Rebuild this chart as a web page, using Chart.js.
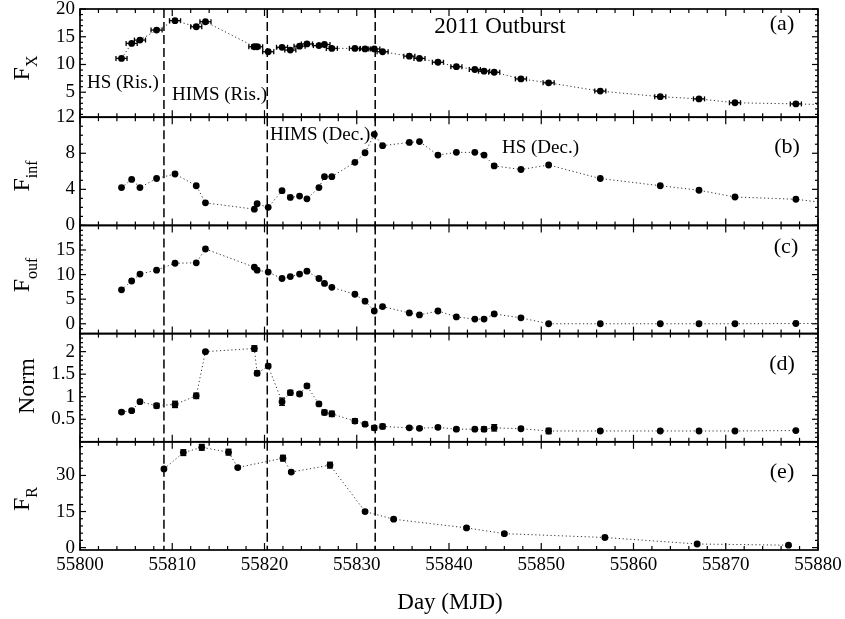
<!DOCTYPE html>
<html>
<head>
<meta charset="utf-8">
<script src="https://cdn.jsdelivr.net/npm/chart.js@4.4.0/dist/chart.umd.min.js"></script>
<style>
  body { margin: 0; background: #fff; }
  #wrap { position: relative; width: 845px; height: 619px; }
  #wrap canvas { position: absolute; left: 0; top: 0; }
</style>
</head>
<body>
<div id="wrap"></div>
<script>
// observation days (MJD) shared by panels a-d, last one only carries the line to the edge
const days = [55804.5, 55805.6, 55806.5, 55808.3, 55810.3, 55812.6, 55813.6, 55818.9, 55819.2, 55820.4,
  55821.9, 55822.8, 55823.8, 55824.6, 55825.9, 55826.5, 55827.3, 55829.8, 55830.9, 55831.9,
  55832.8, 55835.7, 55836.8, 55838.8, 55840.8, 55842.8, 55843.8, 55844.9, 55847.8, 55850.8,
  55856.4, 55862.9, 55867.1, 55871.0, 55877.6, 55882];

const fX = [11.1, 13.8, 14.4, 16.2, 17.9, 16.8, 17.7, 13.2, 13.2, 12.3,
  13.1, 12.6, 13.3, 13.7, 13.4, 13.6, 12.9, 12.9, 12.8, 12.8,
  12.3, 11.5, 11.1, 10.4, 9.6, 9.1, 8.8, 8.6, 7.4, 6.7,
  5.2, 4.2, 3.8, 3.1, 2.9, 2.7];
const fXdayErr = 0.6;

const fInf = [4.2, 5.1, 4.2, 5.2, 5.7, 4.4, 2.5, 1.8, 2.4, 2.0,
  3.85, 3.1, 3.25, 2.95, 4.2, 5.4, 5.4, 7.0, 8.06, 10.1,
  8.84, 9.2, 9.3, 7.8, 8.1, 8.1, 7.8, 6.6, 6.2, 6.7,
  5.2, 4.4, 3.9, 3.15, 2.9, 2.35];

const fOuf = [6.9, 8.7, 10.1, 10.9, 12.3, 12.4, 15.2, 11.5, 10.9, 10.5,
  9.2, 9.6, 10.1, 10.7, 9.2, 8.2, 7.4, 6.0, 4.6, 2.6,
  3.5, 2.2, 1.8, 2.6, 1.4, 0.95, 0.95, 2.0, 1.2, 0.0,
  0.0, 0.0, 0.0, 0.0, 0.05, 0.1];

const norm = [0.66, 0.69, 0.89, 0.80, 0.83, 1.02, 2.0, 2.07, 1.52, 1.68,
  0.89, 1.09, 1.06, 1.24, 0.84, 0.65, 0.62, 0.46, 0.39, 0.31,
  0.34, 0.31, 0.30, 0.32, 0.28, 0.28, 0.28, 0.31, 0.29, 0.24,
  0.24, 0.24, 0.24, 0.24, 0.25, null];
const normErr = [0.03, 0.03, 0.03, 0.05, 0.07, 0.06, 0.02, 0.06, 0.05, 0.04,
  0.08, 0.05, 0.04, 0.04, 0.04, 0.05, 0.06, 0.05, 0.04, 0.05,
  0.05, 0.03, 0.03, 0.03, 0.03, 0.03, 0.05, 0.07, 0.03, 0.06,
  0.02, 0.02, 0.02, 0.02, 0.02, 0];

// radio days and flux
const radioDays = [55809.1, 55811.2, 55813.2, 55816.1, 55817.1, 55822.0, 55822.9, 55827.1,
  55830.9, 55834.0, 55841.9, 55846.0, 55856.9, 55866.9, 55876.8];
const fR = [32.7, 39.5, 41.7, 39.7, 33.3, 37.2, 31.4, 34.3, 15.0, 11.8, 8.2, 5.8, 4.2, 1.5, 1.0];
const fRerr = [0.5, 1.2, 1.2, 1.2, 0.5, 1.2, 0.5, 1.2, 0.5, 0.5, 0.5, 0.5, 0.5, 0.5, 0.5];

// state transitions (dashed lines)
const transitions = [55809.1, 55820.3, 55832.0];

// axis ticks
const dayTicks = [55800, 55810, 55820, 55830, 55840, 55850, 55860, 55870, 55880];
const fXTicks = [5, 10, 15, 20];
const fInfTicks = [0, 4, 8, 12];
const fOufTicks = [0, 5, 10, 15];
const normTicks = [0.5, 1, 1.5, 2];
const fRTicks = [0, 15, 30];

const SERIF = '"Liberation Serif", "DejaVu Serif", serif';
Chart.defaults.font.family = SERIF;
Chart.defaults.font.size = 19;
Chart.defaults.color = '#000';

const W = 845, H = 619;
const LEFT = 80, RIGHT = 818, TOP = 9, BOTTOM = 550;
const PH = (BOTTOM - TOP) / 5;

function pts(xs, ys) {
  return xs.map((x, i) => ({ x: x, y: ys[i] }));
}

function hline(ctx, x1, y1, x2, y2) {
  ctx.beginPath(); ctx.moveTo(x1, y1); ctx.lineTo(x2, y2); ctx.stroke();
}

const framePlugin = {
  id: 'frame',
  beforeDatasetsDraw(chart, args, opts) {
    const { ctx, chartArea: a, scales: { x, y } } = chart;
    ctx.save();
    ctx.strokeStyle = '#000';
    ctx.lineWidth = 1.5;
    ctx.setLineDash([9, 4]);
    transitions.forEach(t => {
      const px = x.getPixelForValue(t);
      hline(ctx, px, a.top, px, a.bottom);
    });
    ctx.setLineDash([]);
    // error bars
    const ds = chart.data.datasets[0];
    ctx.lineWidth = 1.3;
    ds.data.forEach((p, i) => {
      if (p.y == null || p.x > x.max) return;
      const px = x.getPixelForValue(p.x), py = y.getPixelForValue(p.y);
      if (ds.errX) {
        const x1 = x.getPixelForValue(p.x - ds.errX), x2 = x.getPixelForValue(p.x + ds.errX);
        hline(ctx, x1, py, x2, py);
        hline(ctx, x1, py - 2.5, x1, py + 2.5);
        hline(ctx, x2, py - 2.5, x2, py + 2.5);
      }
      if (ds.errY && ds.errY[i]) {
        const y1 = y.getPixelForValue(p.y - ds.errY[i]), y2 = y.getPixelForValue(p.y + ds.errY[i]);
        hline(ctx, px, y1, px, y2);
        hline(ctx, px - 3, y1, px + 3, y1);
        hline(ctx, px - 3, y2, px + 3, y2);
      }
    });
    ctx.restore();
  },
  afterDraw(chart, args, opts) {
    const { ctx, chartArea: a, scales: { x, y } } = chart;
    ctx.save();
    ctx.strokeStyle = '#000';
    ctx.lineWidth = 1.7;
    ctx.strokeRect(a.left, a.top, a.right - a.left, a.bottom - a.top);
    ctx.lineWidth = 1.2;
    // day ticks every 2 days, longer every 10
    for (let d = 55800; d <= 55880; d += 2) {
      const px = x.getPixelForValue(d);
      const len = (d % 10 === 0) ? 7 : 4;
      hline(ctx, px, a.top, px, a.top + len);
      hline(ctx, px, a.bottom, px, a.bottom - len);
    }
    // y ticks
    const step = opts.minor;
    for (let k = Math.ceil(y.min / step - 1e-9); k * step <= y.max + 1e-9; k++) {
      const v = k * step;
      const major = opts.major.some(m => Math.abs(m - v) < 1e-6);
      const len = major ? 6 : 3;
      const py = y.getPixelForValue(v);
      hline(ctx, a.left, py, a.left + len, py);
      hline(ctx, a.right, py, a.right - len, py);
    }
    // axis title (rotated, with subscript)
    const t = opts.title;
    ctx.translate(t.x, t.y);
    ctx.rotate(-Math.PI / 2);
    ctx.fillStyle = '#000';
    ctx.textBaseline = 'alphabetic';
    ctx.font = '24px ' + SERIF;
    const w1 = ctx.measureText(t.main).width;
    ctx.font = '16px ' + SERIF;
    const w2 = t.sub ? ctx.measureText(t.sub).width : 0;
    const start = -(w1 + w2) / 2;
    ctx.font = '24px ' + SERIF;
    ctx.fillText(t.main, start, 0);
    if (t.sub) {
      ctx.font = '16px ' + SERIF;
      ctx.fillText(t.sub, start + w1, 8);
    }
    ctx.setTransform(1, 0, 0, 1, 0, 0);
    // panel notes
    (opts.notes || []).forEach(n => {
      ctx.font = n.size + 'px ' + SERIF;
      ctx.textAlign = n.align || 'left';
      ctx.fillText(n.text, n.x, n.y);
    });
    ctx.restore();
  }
};

const panels = [
  { data: pts(days, fX), errX: fXdayErr, min: 0.5, max: 20, ticks: fXTicks, minor: 1,
    title: { main: 'F', sub: 'X', x: 29, y: 68 },
    notes: [
      { text: '2011 Outburst', x: 500, y: 33, size: 23, align: 'center' },
      { text: '(a)', x: 782, y: 30, size: 22, align: 'center' },
      { text: 'HS (Ris.)', x: 87, y: 88, size: 19 },
      { text: 'HIMS (Ris.)', x: 172, y: 100, size: 19 }
    ] },
  { data: pts(days, fInf), min: 0, max: 12, ticks: fInfTicks, minor: 1,
    title: { main: 'F', sub: 'inf', x: 29, y: 176 },
    notes: [
      { text: '(b)', x: 787, y: 153, size: 22, align: 'center' },
      { text: 'HIMS (Dec.)', x: 270, y: 140, size: 19 },
      { text: 'HS (Dec.)', x: 502, y: 153, size: 19 }
    ] },
  { data: pts(days, fOuf), min: -2, max: 20, ticks: fOufTicks, minor: 1,
    title: { main: 'F', sub: 'ouf', x: 29, y: 275 },
    notes: [{ text: '(c)', x: 786, y: 253, size: 22, align: 'center' }] },
  { data: pts(days, norm), errY: normErr, min: 0, max: 2.4, ticks: normTicks, minor: 0.1,
    title: { main: 'Norm', sub: '', x: 34, y: 386 },
    notes: [{ text: '(d)', x: 782, y: 370, size: 22, align: 'center' }] },
  { data: pts(radioDays, fR), errY: fRerr, min: -1, max: 44, ticks: fRTicks, minor: 3,
    title: { main: 'F', sub: 'R', x: 29, y: 499 },
    notes: [{ text: '(e)', x: 782, y: 478, size: 22, align: 'center' }],
    showX: true }
];

const wrap = document.getElementById('wrap');

panels.forEach((p, i) => {
  const canvas = document.createElement('canvas');
  canvas.width = W;
  canvas.height = H;
  wrap.appendChild(canvas);
  const top = TOP + i * PH;
  const bottom = top + PH;
  const xAxisH = p.showX ? 30 : 0;

  new Chart(canvas, {
    type: 'line',
    data: {
      datasets: [{
        data: p.data,
        errX: p.errX,
        errY: p.errY,
        borderColor: '#333',
        borderWidth: 1,
        borderDash: [1.2, 2.6],
        pointRadius: 3.4,
        pointBackgroundColor: '#000',
        pointBorderWidth: 0,
        tension: 0
      }]
    },
    options: {
      responsive: false,
      animation: false,
      devicePixelRatio: 1,
      events: [],
      layout: {
        padding: { left: 0, right: W - RIGHT, top: top, bottom: H - bottom - xAxisH }
      },
      plugins: {
        legend: { display: false },
        tooltip: { enabled: false },
        frame: { major: p.ticks, minor: p.minor, title: p.title, notes: p.notes }
      },
      scales: {
        x: {
          type: 'linear',
          min: 55800,
          max: 55880,
          display: !!p.showX,
          grid: { display: false, drawTicks: false },
          border: { display: false },
          afterBuildTicks: s => { s.ticks = dayTicks.map(v => ({ value: v })); },
          ticks: { padding: 4, maxRotation: 0, autoSkip: false, callback: v => String(v) },
          afterFit: s => { s.height = xAxisH; s.paddingLeft = 0; s.paddingRight = 0; }
        },
        y: {
          min: p.min,
          max: p.max,
          grid: { display: false, drawTicks: false },
          border: { display: false },
          afterBuildTicks: s => { s.ticks = p.ticks.map(v => ({ value: v })); },
          ticks: { padding: 5, autoSkip: false, callback: v => String(v) },
          afterFit: s => { s.width = LEFT; s.paddingTop = 0; s.paddingBottom = 0; }
        }
      }
    },
    plugins: [framePlugin]
  });
});

// x axis title
const titleCanvas = document.createElement('canvas');
titleCanvas.width = W;
titleCanvas.height = H;
wrap.appendChild(titleCanvas);
const tctx = titleCanvas.getContext('2d');
tctx.font = '23px ' + SERIF;
tctx.textAlign = 'center';
tctx.fillStyle = '#000';
tctx.fillText('Day (MJD)', 450, 609);
</script>
</body>
</html>
